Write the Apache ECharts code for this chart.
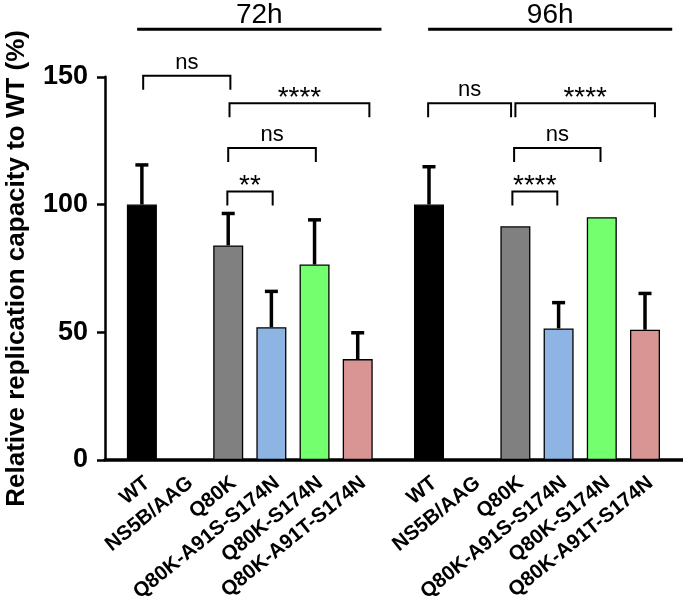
<!DOCTYPE html>
<html><head><meta charset="utf-8">
<script src="https://cdn.jsdelivr.net/npm/echarts@6/dist/echarts.min.js"></script>
<style>html,body{margin:0;padding:0;background:#fff;overflow:hidden}#c{width:683px;height:613px}</style>
</head><body><div id="c"></div>
<script>
// ---- data ----
const groups = ['72h', '96h'];
const categories = ['WT', 'NS5B/AAG', 'Q80K', 'Q80K-A91S-S174N', 'Q80K-S174N', 'Q80K-A91T-S174N'];
const barColors = ['#000000', '#ffffff', '#808080', '#8db4e2', '#73ff6e', '#d99594'];
const means72 = [100, null, 84, 52, 76.5, 39.5];
const errTop72 = [115.5, null, 96.5, 66, 94, 49.8];
const means96 = [100, null, 91.5, 51.5, 95, 51];
const errTop96 = [114.8, null, null, 61.6, null, 65.2];
const yTicks = [0, 50, 100, 150];
// significance brackets: [from category, to category, level, label]
const brackets72 = [[0.03, 2.05, 150.4, 'ns'], [2.03, 5.27, 139.6, '****'], [2, 4.03, 122.1, 'ns'], [1.98, 3.03, 105.1, '**']];
const brackets96 = [[-0.02, 1.9, 139.6, 'ns'], [2, 5.23, 139.6, '****'], [1.97, 3.97, 122.1, 'ns'], [1.93, 2.97, 105.1, '****']];
const headerSpan72 = [-0.11, 5.55];
const headerSpan96 = [-0.02, 5.63];

const FONT = '"Liberation Sans", Arial, Helvetica, sans-serif';
const TOP = 76.8, BOTTOM = 153;

function bracketSeries(gi, list) {
  return {
    type: 'custom', xAxisIndex: gi + 1, yAxisIndex: gi + 1, clip: false, z: 5,
    data: list.map(b => [0, b[2]]),
    renderItem: function (params, api) {
      const b = list[params.dataIndex];
      const bw = api.size([1, 0])[0];
      const base = api.coord([0, b[2]]);
      const x0 = base[0] + b[0] * bw, x1 = base[0] + b[1] * bw, y = base[1];
      const leg = 14;
      const star = b[3].indexOf('*') >= 0;
      return {
        type: 'group', children: [
          { type: 'polyline', shape: { points: [[x0, y + leg], [x0, y], [x1, y], [x1, y + leg]] },
            style: { stroke: '#000', lineWidth: 2, fill: null } },
          { type: 'text', x: (x0 + x1) / 2, y: star ? y - 5 : y - 13,
            style: { text: b[3], fill: '#000', font: (star ? '28px ' : '22px ') + FONT, align: 'center', verticalAlign: 'middle' } }
        ]
      };
    }
  };
}

function headerSeries(gi, span) {
  return {
    type: 'custom', xAxisIndex: gi + 1, yAxisIndex: gi + 1, clip: false, z: 5,
    data: [[0, 150]],
    renderItem: function (params, api) {
      const bw = api.size([1, 0])[0];
      const base = api.coord([0, 150]);
      const x0 = base[0] + span[0] * bw, x1 = base[0] + span[1] * bw;
      const y = base[1] - 47.5;
      return {
        type: 'group', children: [
          { type: 'line', shape: { x1: x0, y1: y, x2: x1, y2: y }, style: { stroke: '#000', lineWidth: 3 } },
          { type: 'text', x: (x0 + x1) / 2, y: y - 14,
            style: { text: groups[gi], fill: '#000', font: '28px ' + FONT, align: 'center', verticalAlign: 'middle' } }
        ]
      };
    }
  };
}

function barSeries(gi, means) {
  return {
    type: 'bar', xAxisIndex: gi + 1, yAxisIndex: gi + 1, barWidth: 30, z: 2,
    data: means.map((v, i) => ({ value: v, itemStyle: { color: barColors[i], borderColor: '#000', borderWidth: 1.3 } }))
  };
}

function errSeries(gi, means, tops) {
  const d = [];
  means.forEach((v, i) => { if (v != null && tops[i] != null) d.push([i, v, tops[i]]); });
  return {
    type: 'custom', xAxisIndex: gi + 1, yAxisIndex: gi + 1, clip: false, z: 3,
    data: d,
    renderItem: function (params, api) {
      const p0 = api.coord([api.value(0), api.value(1)]);
      const p1 = api.coord([api.value(0), api.value(2)]);
      const half = 6.5;
      return {
        type: 'group', children: [
          { type: 'line', shape: { x1: p0[0], y1: p0[1], x2: p1[0], y2: p1[1] }, style: { stroke: '#000', lineWidth: 3.5 } },
          { type: 'line', shape: { x1: p1[0] - half, y1: p1[1], x2: p1[0] + half, y2: p1[1] }, style: { stroke: '#000', lineWidth: 3.5 } }
        ]
      };
    }
  };
}

const catAxis = (gi) => ({
  type: 'category', gridIndex: gi, data: categories,
  axisLine: { show: false }, axisTick: { show: false },
  axisLabel: { interval: 0, rotate: 39, margin: 9, color: '#000', fontFamily: FONT, fontWeight: 'bold', fontSize: 20.5,
    verticalAlign: 'top', padding: [2, 3, 0, 0] }
});
const hiddenY = (gi) => ({ type: 'value', gridIndex: gi, min: 0, max: 150, show: false });

const chart = echarts.init(document.getElementById('c'), null, { renderer: 'canvas' });
chart.setOption({
  animation: false,
  backgroundColor: '#fff',
  grid: [
    { left: 105, right: 0, top: TOP, bottom: BOTTOM, outerBoundsMode: 'none' },
    { left: 120.3, width: 259, top: TOP, bottom: BOTTOM, outerBoundsMode: 'none' },
    { left: 407.4, width: 259.2, top: TOP, bottom: BOTTOM, outerBoundsMode: 'none' }
  ],
  xAxis: [
    { type: 'value', gridIndex: 0, min: 0, max: 1, axisLine: { show: true, onZero: false, lineStyle: { color: '#000', width: 3.5 } },
      axisTick: { show: false }, axisLabel: { show: false }, splitLine: { show: false } },
    catAxis(1), catAxis(2)
  ],
  yAxis: [
    { type: 'value', gridIndex: 0, min: yTicks[0], max: yTicks[yTicks.length - 1], interval: 50,
      name: 'Relative replication capacity to WT (%)', nameLocation: 'middle', nameGap: 75,
      nameTextStyle: { color: '#000', fontFamily: FONT, fontWeight: 'bold', fontSize: 26 },
      axisLine: { show: true, lineStyle: { color: '#000', width: 2.5 } },
      axisTick: { show: true, length: 8, lineStyle: { color: '#000', width: 2.5 } },
      axisLabel: { margin: 17, color: '#000', fontFamily: FONT, fontWeight: 'bold', fontSize: 27 },
      splitLine: { show: false } },
    hiddenY(1), hiddenY(2)
  ],
  series: [
    barSeries(0, means72), errSeries(0, means72, errTop72), bracketSeries(0, brackets72), headerSeries(0, headerSpan72),
    barSeries(1, means96), errSeries(1, means96, errTop96), bracketSeries(1, brackets96), headerSeries(1, headerSpan96)
  ]
});
</script></body></html>
